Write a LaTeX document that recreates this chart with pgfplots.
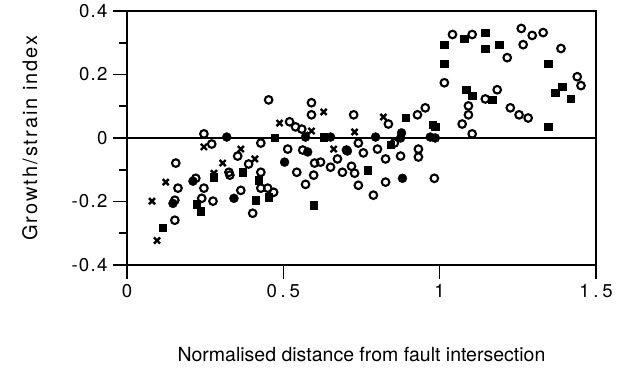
\documentclass[border=0pt]{standalone}
\usepackage{fontspec}
\setmainfont{TeX Gyre Heros}
\newfontfamily\xtickfont[LetterSpace=20]{TeX Gyre Heros}
\newfontfamily\ytickfont[LetterSpace=7]{TeX Gyre Heros}
\newfontfamily\ylabfont[LetterSpace=10]{TeX Gyre Heros}
\usepackage{pgfplots}
\pgfplotsset{compat=1.18}
\begin{document}
\begin{tikzpicture}
\begin{axis}[
  name=ax,
  scale only axis,
  width=469pt, height=254pt,
  xmin=0, xmax=1.5, ymin=-0.4, ymax=0.4,
  axis line style={line width=1.6pt},
  tick style={line width=1.6pt, black},
  tick align=outside,
  xtick pos=left, ytick pos=left,
  xtick={0,0.5,1,1.5}, xticklabels={0,0.5,1,1.5},
  ytick={-0.4,-0.2,0,0.2,0.4}, yticklabels={-0.4,-0.2,0,0.2,0.4},
  minor ytick={-0.3,-0.1,0.1,0.3},
  major tick length=14pt, minor tick length=8pt,
  xticklabel style={font=\xtickfont\fontsize{18.6}{20}\selectfont, yshift=-2pt},
  yticklabel style={font=\ytickfont\fontsize{18.6}{20}\selectfont, xshift=-2pt},
  xlabel={Normalised distance from fault intersection},
  ylabel={Growth/strain index},
  xlabel style={font=\fontsize{19.5}{21}\selectfont, at={(axis description cs:0.5,0)}, anchor=center, yshift=-90pt},
  ylabel style={font=\ylabfont\fontsize{20}{22}\selectfont, at={(axis description cs:-0.207,0.5)}, anchor=center},
  clip=false,
]
\addplot[black, line width=1.5pt, mark=none] coordinates {(0,0) (1.5,0)};
% open circles
\addplot[only marks, mark=o, mark size=3.8pt, mark options={line width=2.1pt, black}] coordinates {
(0.246,0.013) (0.271,-0.019) (0.156,-0.079) (0.163,-0.158) (0.220,-0.127)
(0.246,-0.158) (0.239,-0.190) (0.275,-0.199) (0.153,-0.196) (0.153,-0.259)
(0.329,-0.117) (0.354,-0.057) (0.364,-0.165) (0.326,-0.108) (0.389,-0.082)
(0.402,-0.237) (0.428,-0.016) (0.428,-0.108) (0.428,-0.158) (0.450,-0.158)
(0.469,-0.171) (0.453,0.120) (0.514,-0.035) (0.520,0.051) (0.539,0.035)
(0.559,0.028) (0.562,-0.038) (0.543,-0.108) (0.571,-0.146) (0.590,0.111)
(0.590,0.073) (0.597,-0.117) (0.600,-0.079) (0.619,-0.076) (0.651,-0.092)
(0.673,-0.066) (0.689,-0.108) (0.702,-0.038) (0.718,-0.089) (0.728,-0.111)
(0.725,0.073) (0.740,-0.016) (0.740,-0.149) (0.756,-0.047) (0.801,-0.035)
(0.788,-0.180) (0.827,-0.066) (0.827,-0.139) (0.836,0.044) (0.855,-0.016)
(0.875,-0.057) (0.929,0.073) (0.954,0.095) (0.932,-0.035) (0.932,-0.060)
(0.983,-0.127) (1.015,0.174) (1.041,0.326) (1.104,0.326) (1.072,0.044)
(1.092,0.101) (1.092,0.073) (1.104,0.013) (1.146,0.123) (1.184,0.152)
(1.216,0.253) (1.226,0.095) (1.254,0.073) (1.283,0.063) (1.261,0.345)
(1.267,0.294) (1.296,0.323) (1.331,0.332) (1.388,0.282) (1.440,0.193)
(1.452,0.165)
};
% filled squares
\addplot[only marks, mark=square*, mark size=3.7pt, mark options={black}] coordinates {
(0.115,-0.282) (0.223,-0.209) (0.236,-0.231) (0.278,-0.123) (0.370,-0.108)
(0.412,-0.196) (0.453,-0.187) (0.421,-0.133) (0.472,0.0) (0.597,-0.212)
(0.629,0.003) (0.769,-0.101) (0.843,-0.022) (0.891,0.063) (0.977,0.041)
(0.986,0.035) (1.015,0.234) (1.015,0.294) (1.079,0.313) (1.146,0.332)
(1.146,0.282) (1.191,0.294) (1.085,0.152) (1.104,0.133) (1.168,0.120)
(1.347,0.234) (1.392,0.161) (1.369,0.142) (1.420,0.123) (1.347,0.035)
};
% filled circles
\addplot[only marks, mark=*, mark size=4.5pt, mark options={black}] coordinates {
(0.319,0.003) (0.211,-0.136) (0.147,-0.206) (0.342,-0.190) (0.504,-0.076)
(0.578,-0.044) (0.571,0.003) (0.651,0.003) (0.705,-0.041) (0.795,0.003)
(0.878,0.016) (0.875,0.0) (0.881,-0.127) (0.986,0.0) (0.970,0.003)
};
% crosses
\addplot[only marks, mark=x, mark size=4.3pt, mark options={line width=2.4pt, black}] coordinates {
(0.080,-0.199) (0.124,-0.139) (0.096,-0.323) (0.246,-0.028) (0.306,-0.079)
(0.278,-0.111) (0.364,-0.035) (0.409,-0.066) (0.488,0.047) (0.571,0.009)
(0.590,0.022) (0.629,0.082) (0.661,-0.035) (0.728,0.019) (0.820,0.066)
};
\end{axis}
\path[use as bounding box] ([xshift=-127pt,yshift=-104pt]ax.south west) rectangle ([xshift=34pt,yshift=11pt]ax.north east);
\end{tikzpicture}
\end{document}
